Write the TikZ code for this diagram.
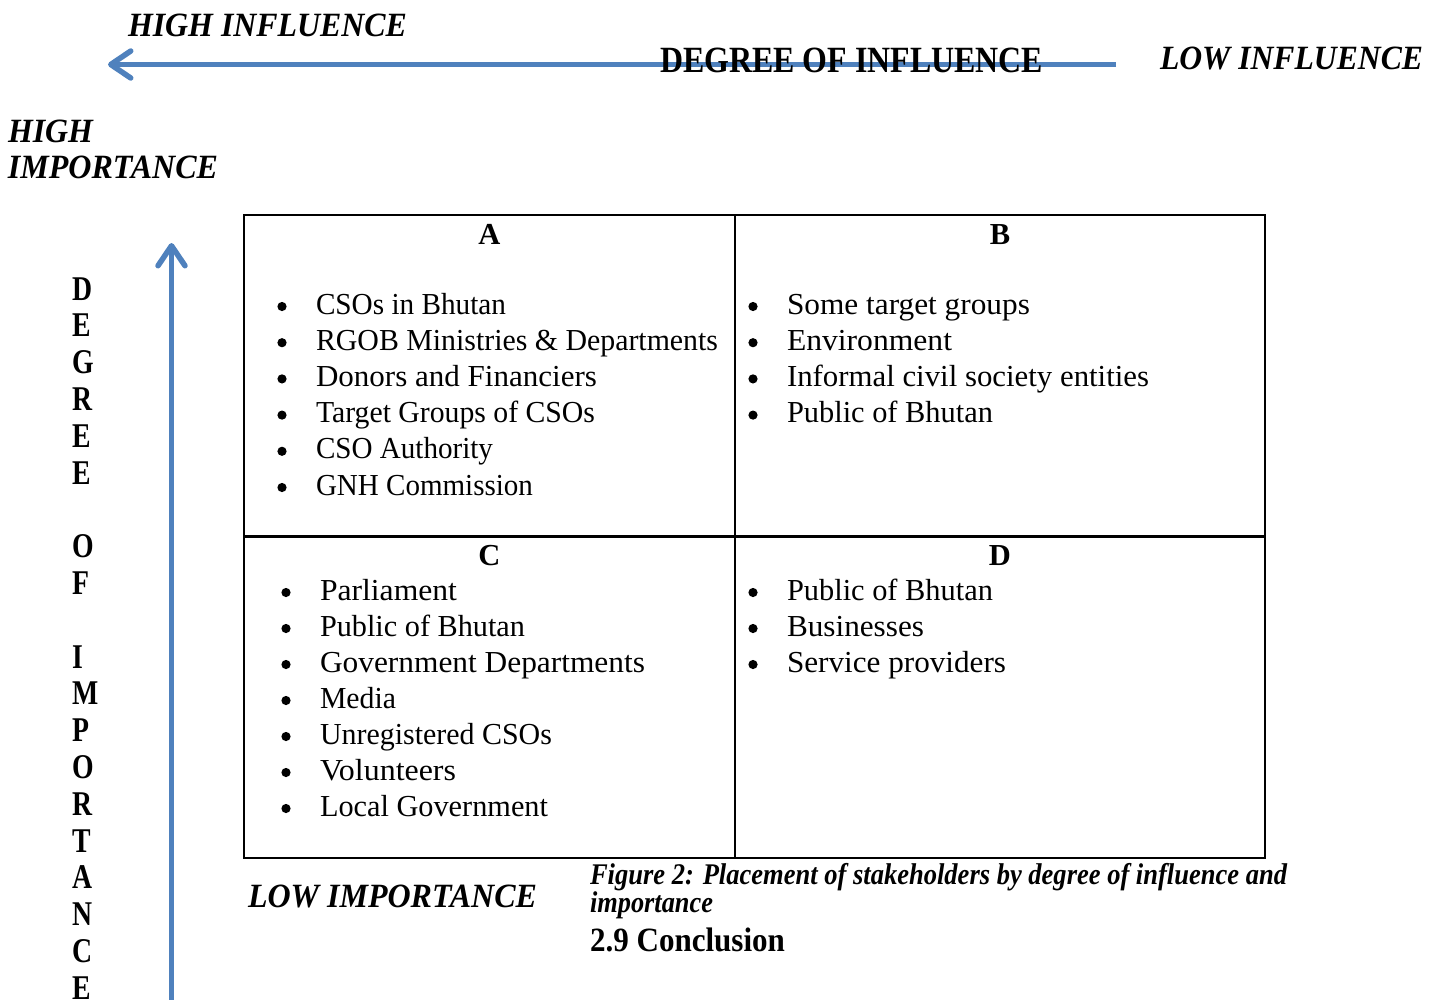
\documentclass[tikz,border=0pt]{standalone}
\usepackage{fontspec}
\setmainfont{Liberation Serif}
\usetikzlibrary{arrows.meta}
\definecolor{axisblue}{HTML}{4F81BD}
% scale a text horizontally to a given width, keeping its height
\newcommand\wfit[2]{\resizebox{#1}{\height}{#2}}

\begin{document}
\begin{tikzpicture}[x=1pt,y=-1pt,
  lbl/.style={inner sep=0pt, outer sep=0pt, anchor=base west},
  axislabel/.style={lbl, font=\fontsize{34}{40}\selectfont\bfseries\itshape},
  axistitle/.style={lbl, font=\fontsize{37}{40}\selectfont\bfseries},
  vletter/.style={lbl, font=\fontsize{34.7}{40}\selectfont\bfseries},
  axisarrow/.style={draw=axisblue, line width=5.5pt,
    -{Straight Barb[length=20pt, width=27pt, round]}},
  cell/.style={draw, line width=2pt, inner sep=0pt, minimum height=321pt},
  head/.style={inner sep=0pt, anchor=base, font=\fontsize{30.5}{36}\selectfont\bfseries},
  item/.style={lbl, font=\fontsize{30.5}{36}\selectfont},
  dot/.style={fill=black},
  caption/.style={lbl, font=\fontsize{30}{32}\selectfont\bfseries\itshape},
  section/.style={lbl, font=\fontsize{34}{36}\selectfont\bfseries}]
\useasboundingbox (0,0) rectangle (1435,999);

% horizontal axis: degree of influence
\coordinate (htail) at (1116,64.5);
\coordinate (htip) at (108,64.5);
\draw[axisarrow] (htail) -- (htip);
\node[axislabel] (highinf) at (128,36) {\wfit{279pt}{HIGH INFLUENCE}};
\node[axistitle] (deginf) at (660,72) {\wfit{383pt}{DEGREE OF INFLUENCE}};
\node[axislabel] (lowinf) at (1160,69) {\wfit{263pt}{LOW INFLUENCE}};

% vertical axis: degree of importance
\node[axislabel] (highimp1) at (8,142) {\wfit{85pt}{HIGH}};
\node[axislabel] (highimp2) at (8,178) {\wfit{210pt}{IMPORTANCE}};
\coordinate (vtail) at (171.5,1000);
\coordinate (vtip) at (171.5,243);
\draw[axisarrow] (vtail) -- (vtip);
\foreach \ch/\k in {D/0,E/1,G/2,R/3,E/4,E/5,O/7,F/8,I/10,M/11,P/12,O/13,R/14,T/15,A/16,N/17,C/18,E/19}
  \node[vletter] (vl\k) at (72,300+36.8*\k) {\scalebox{0.8}[1]{\ch}};
\node[axislabel] (lowimp) at (248,907) {\wfit{289pt}{LOW IMPORTANCE}};

% the four quadrants
\node[cell, minimum width=491pt] (qA) at (489.5,375.5) {};
\node[cell, minimum width=530pt] (qB) at (1000,375.5) {};
\node[cell, minimum width=491pt] (qC) at (489.5,697) {};
\node[cell, minimum width=530pt] (qD) at (1000,697) {};

\node[head] (hA) at (489.5,244) {A};
\node[head] (hB) at (1000,244) {B};
\node[head] (hC) at (489.5,565) {C};
\node[head] (hD) at (1000,565) {D};

% quadrant A
\foreach \t/\w [count=\i from 0] in {CSOs in Bhutan/190,RGOB Ministries \& Departments/402,Donors and Financiers/281,Target Groups of CSOs/279,CSO Authority/177,GNH Commission/217}{
  \node[item] (a\i) at (316,314+36.2*\i) {\wfit{\w pt}{\t}};
  \fill[dot] (282,306.5+36.2*\i) circle (4.6);
}
% quadrant B
\foreach \t/\w [count=\i from 0] in {Some target groups/243,Environment/165,Informal civil society entities/362,Public of Bhutan/206}{
  \node[item] (b\i) at (787,314+36.2*\i) {\wfit{\w pt}{\t}};
  \fill[dot] (753,306.5+36.2*\i) circle (4.6);
}
% quadrant C
\foreach \t/\w [count=\i from 0] in {Parliament/137,Public of Bhutan/205,Government Departments/325,Media/76,Unregistered CSOs/232,Volunteers/136,Local Government/228}{
  \node[item] (c\i) at (320,600+36*\i) {\wfit{\w pt}{\t}};
  \fill[dot] (286,592.5+36*\i) circle (4.6);
}
% quadrant D
\foreach \t/\w [count=\i from 0] in {Public of Bhutan/206,Businesses/137,Service providers/219}{
  \node[item] (d\i) at (787,600+36*\i) {\wfit{\w pt}{\t}};
  \fill[dot] (753,592.5+36*\i) circle (4.6);
}

% caption and following heading
\node[caption] (cap1) at (590,884) {\wfit{697pt}{Figure 2: Placement of stakeholders by degree of influence and}};
\node[caption] (cap2) at (590,912) {\wfit{123pt}{importance}};
\node[section] (concl) at (590,951) {\wfit{195pt}{2.9 Conclusion}};
\end{tikzpicture}
\end{document}
